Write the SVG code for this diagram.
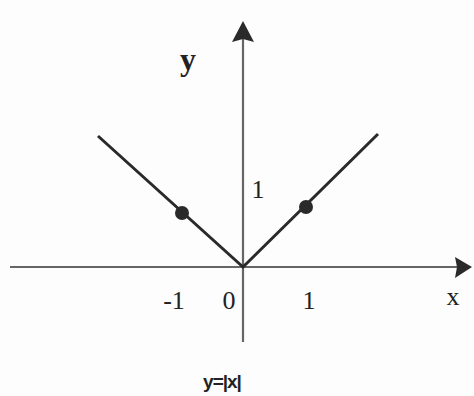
<svg xmlns="http://www.w3.org/2000/svg" width="474" height="396" viewBox="0 0 474 396">
<style>
.axis{stroke:#666;stroke-width:2.2;fill:none}
.graph{stroke:#2a2a2a;stroke-width:3;fill:none}
.t{font-family:"Liberation Serif",serif;fill:#222}
</style>
<rect width="474" height="396" fill="#fdfdfd"/>
<g id="axes">
<line class="axis" x1="10" y1="267" x2="458" y2="267"/>
<polygon points="472,267 455,257 457,267 455,278" fill="#2a2a2a"/>
<line class="axis" x1="243" y1="342" x2="243" y2="38"/>
<polygon points="243,21 232,42 243,39 254,42" fill="#2a2a2a"/>
</g>
<g id="graph">
<polyline class="graph" points="98,136 243,267 378,134"/>
<circle cx="182" cy="213" r="7" fill="#2a2a2a"/>
<circle cx="306" cy="207" r="7" fill="#2a2a2a"/>
</g>
<g id="labels">
<text class="t" x="188" y="70" font-size="32" text-anchor="middle" font-weight="bold">y</text>
<text class="t" x="258" y="198" font-size="26" text-anchor="middle">1</text>
<text class="t" x="174" y="309" font-size="26" text-anchor="middle">-1</text>
<text class="t" x="229" y="309" font-size="26" text-anchor="middle">0</text>
<text class="t" x="309" y="309" font-size="26" text-anchor="middle">1</text>
<text class="t" x="453" y="305" font-size="26" text-anchor="middle">x</text>
<text x="222" y="388" font-size="19" text-anchor="middle" font-family="Liberation Sans,sans-serif" font-weight="bold" fill="#222" letter-spacing="-1">y=|x|</text>
</g>
</svg>
